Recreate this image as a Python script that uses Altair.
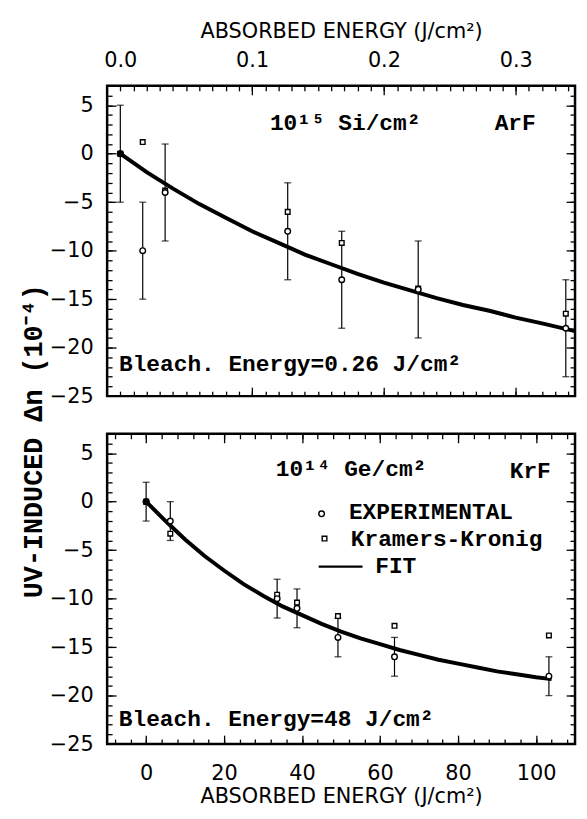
import altair as alt
import pandas as pd
import numpy as np

# ---------------- data ----------------
# Top panel: 10^15 Si/cm^2, ArF
arf_energy = [0.0, 0.017, 0.034, 0.127, 0.168, 0.226, 0.338]
arf_exp = [0.0, -10.0, -4.0, -8.0, -13.0, -14.0, -18.0]
arf_err = [5.0, 5.0, 5.0, 5.0, 5.0, 5.0, 5.0]
arf_kk = [0.0, 1.2, -3.8, -6.0, -9.2, -13.9, -16.5]
arf_fit_energy = [0.0, 0.02, 0.04, 0.06, 0.08, 0.10, 0.12, 0.14, 0.16, 0.18,
                  0.20, 0.22, 0.24, 0.26, 0.28, 0.30, 0.32, 0.345]
arf_fit_dn = [0.0, -1.9, -3.6, -5.2, -6.6, -8.0, -9.2, -10.4, -11.4, -12.4,
              -13.3, -14.1, -14.9, -15.6, -16.2, -16.9, -17.5, -18.3]

# Bottom panel: 10^14 Ge/cm^2, KrF
krf_energy = [0.0, 6.2, 33.6, 38.7, 49.2, 63.7, 103.3]
krf_exp = [0.0, -2.0, -10.0, -11.0, -14.0, -16.0, -18.0]
krf_err = [2.0, 2.0, 2.0, 2.0, 2.0, 2.0, 2.0]
krf_kk = [0.0, -3.3, -9.6, -10.4, -11.8, -12.8, -13.8]
krf_fit_energy = [0, 5, 10, 15, 20, 25, 30, 35, 40, 45, 50, 55, 60, 65, 70,
                  75, 80, 85, 90, 95, 100, 104]
krf_fit_dn = [0.0, -2.0, -3.9, -5.6, -7.1, -8.5, -9.7, -10.8, -11.7, -12.6,
              -13.4, -14.1, -14.7, -15.3, -15.8, -16.3, -16.7, -17.1, -17.5,
              -17.8, -18.1, -18.3]

# tick labels
y_tick_values = [-25, -20, -15, -10, -5, 0, 5]
arf_x_ticks = [0.0, 0.1, 0.2, 0.3]
krf_x_ticks = [0, 20, 40, 60, 80, 100]

x_title = "ABSORBED ENERGY (J/cm²)"
y_title = "UV-INDUCED Δn (10⁻⁴)"

# annotations (label, energy, delta n)
arf_ann_text = ["10¹⁵ Si/cm²", "ArF", "Bleach. Energy=0.26 J/cm²"]
arf_ann_x = [0.1135, 0.284, -0.001]
arf_ann_y = [2.45, 2.45, -22.4]
krf_ann_text = ["10¹⁴ Ge/cm²", "KrF", "Bleach. Energy=48 J/cm²"]
krf_ann_x = [33.25, 93.25, -7.0]
krf_ann_y = [2.6, 2.4, -23.15]

legend_labels = ["EXPERIMENTAL", "Kramers-Kronig", "FIT"]
legend_text_x = [52.0, 52.5, 58.75]
legend_text_y = [-1.1, -3.85, -6.6]
legend_marker_x = [45.0, 45.75]
legend_marker_y = [-1.25, -3.8]
legend_line_x = [44.25]
legend_line_x2 = [55.5]
legend_line_y = [-6.7]

SANS = "DejaVu Sans"
MONO = "Liberation Mono"
W, H = 472, 313


def tick_axis(orient, values, size):
    return alt.Axis(orient=orient, values=values, labels=False, domain=False,
                    grid=False, ticks=True, tickSize=size, offset=-size,
                    tickColor="black", tickWidth=1.3, title=None)


def make_panel(energy, exp, err, kk, fitE, fitY, xdom, x_major, x_minor,
               x_label_vals, xfmt, xorient, ann_t, ann_x, ann_y, with_ytitle,
               with_legend):
    pts = pd.DataFrame({
        "E": energy, "dn": exp, "kk": kk,
        "lo": [a - b for a, b in zip(exp, err)],
        "hi": [a + b for a, b in zip(exp, err)],
    })
    fit = pd.DataFrame({"E": fitE, "dn": fitY})
    ann = pd.DataFrame({"E": ann_x, "dn": ann_y, "t": ann_t})
    xs = alt.Scale(domain=xdom, nice=False, zero=False)
    ys = alt.Scale(domain=[-25, 7], nice=False, zero=False)

    def X(field, **kw):
        return alt.X(field, type="quantitative", scale=xs, **kw)

    def Y(field, **kw):
        return alt.Y(field, type="quantitative", scale=ys, **kw)

    # labelled axes
    if xorient == "top":
        xlab = alt.Axis(orient="top", values=x_label_vals, format=xfmt,
                        ticks=False, domain=False, grid=False,
                        labelFont=SANS, labelFontSize=21, labelColor="black",
                        labelPadding=16, title=x_title, titleFont=SANS,
                        titleFontSize=21, titleFontWeight="normal",
                        titleColor="black", titlePadding=8)
    else:
        xlab = alt.Axis(orient="bottom", values=x_label_vals, format=xfmt,
                        ticks=False, domain=False, grid=False,
                        labelFont=SANS, labelFontSize=21, labelColor="black",
                        labelPadding=19, title=x_title, titleFont=SANS,
                        titleFontSize=21, titleFontWeight="normal",
                        titleColor="black", titlePadding=2)
    if with_ytitle:
        ylab = alt.Axis(orient="left", values=y_tick_values, format="d",
                        ticks=False, domain=False, grid=False,
                        labelFont=SANS, labelFontSize=21, labelColor="black",
                        labelPadding=14, title=y_title, titleFont=MONO,
                        titleFontSize=27, titleFontWeight="bold",
                        titleColor="black", titlePadding=2, titleY=358)
    else:
        ylab = alt.Axis(orient="left", values=y_tick_values, format="d",
                        ticks=False, domain=False, grid=False,
                        labelFont=SANS, labelFontSize=21, labelColor="black",
                        labelPadding=14, title=None)

    y_major = [-20, -15, -10, -5, 0, 5]
    y_minor = list(range(-24, 7))

    def carrier(xa, ya):
        return alt.Chart(fit).mark_point(opacity=0).encode(
            x=X("E", axis=xa), y=Y("dn", axis=ya))

    layers = [
        carrier(xlab, ylab),
        carrier(tick_axis("top", x_major, 9), tick_axis("left", y_major, 9)),
        carrier(tick_axis("bottom", x_major, 9), tick_axis("right", y_major, 9)),
        carrier(tick_axis("top", x_minor, 5), tick_axis("left", y_minor, 5)),
        carrier(tick_axis("bottom", x_minor, 5), tick_axis("right", y_minor, 5)),
    ]

    base = alt.Chart(pts)
    layers.append(base.mark_rule(color="black", strokeWidth=1.2).encode(
        x=X("E", axis=None), y=Y("lo", axis=None), y2="hi"))
    layers.append(base.mark_tick(orient="horizontal", size=7, thickness=1.3,
                                 color="black").encode(
        x=X("E", axis=None), y=Y("lo", axis=None)))
    layers.append(base.mark_tick(orient="horizontal", size=7, thickness=1.3,
                                 color="black").encode(
        x=X("E", axis=None), y=Y("hi", axis=None)))
    layers.append(alt.Chart(fit).mark_line(color="black", strokeWidth=4,
                                           clip=True).encode(
        x=X("E", axis=None), y=Y("dn", axis=None)))
    layers.append(base.mark_point(shape="square", filled=True, fill="white",
                                  stroke="black", strokeWidth=1.4, size=22,
                                  opacity=1).encode(
        x=X("E", axis=None), y=Y("kk", axis=None)))
    layers.append(base.mark_point(shape="circle", filled=True, fill="white",
                                  stroke="black", strokeWidth=1.4, size=32,
                                  opacity=1).encode(
        x=X("E", axis=None), y=Y("dn", axis=None)))
    layers.append(base.transform_filter(alt.datum.E == 0).mark_circle(
        color="black", size=45, opacity=1).encode(
        x=X("E", axis=None), y=Y("dn", axis=None)))
    layers.append(alt.Chart(ann).mark_text(
        font=MONO, fontWeight="bold", fontSize=23, align="left",
        baseline="alphabetic", color="black").encode(
        x=X("E", axis=None), y=Y("dn", axis=None), text="t:N"))

    if with_legend:
        lt = pd.DataFrame({"E": legend_text_x, "dn": legend_text_y,
                           "t": legend_labels})
        lm = pd.DataFrame({"E": legend_marker_x, "dn": legend_marker_y,
                           "s": ["circle", "square"]})
        ll = pd.DataFrame({"E": legend_line_x, "E2": legend_line_x2,
                           "dn": legend_line_y})
        layers.append(alt.Chart(lt).mark_text(
            font=MONO, fontWeight="bold", fontSize=23, align="left",
            baseline="middle", color="black").encode(
            x=X("E", axis=None), y=Y("dn", axis=None), text="t:N"))
        layers.append(alt.Chart(lm).transform_filter(
            alt.datum.s == "circle").mark_point(
            shape="circle", filled=True, fill="white", stroke="black",
            strokeWidth=1.4, size=32, opacity=1).encode(
            x=X("E", axis=None), y=Y("dn", axis=None)))
        layers.append(alt.Chart(lm).transform_filter(
            alt.datum.s == "square").mark_point(
            shape="square", filled=True, fill="white", stroke="black",
            strokeWidth=1.4, size=22, opacity=1).encode(
            x=X("E", axis=None), y=Y("dn", axis=None)))
        layers.append(alt.Chart(ll).mark_rule(color="black",
                                              strokeWidth=2.5).encode(
            x=X("E", axis=None), x2="E2", y=Y("dn", axis=None)))

    return alt.layer(*layers).resolve_axis(
        x="independent", y="independent").properties(width=W, height=H)


top = make_panel(
    arf_energy, arf_exp, arf_err, arf_kk, arf_fit_energy, arf_fit_dn,
    [-0.01, 0.345], [0.1, 0.2, 0.3],
    [round(v, 3) for v in np.arange(0.0, 0.345, 0.01)],
    arf_x_ticks, ".1f", "top",
    arf_ann_text, arf_ann_x, arf_ann_y, True, False)

bottom = make_panel(
    krf_energy, krf_exp, krf_err, krf_kk, krf_fit_energy, krf_fit_dn,
    [-10, 110], [0, 20, 40, 60, 80, 100],
    list(range(-8, 110, 4)),
    krf_x_ticks, "d", "bottom",
    krf_ann_text, krf_ann_x, krf_ann_y, False, True)

chart = alt.vconcat(top, bottom, spacing=38, bounds="flush").properties(
    padding={"left": 10, "top": 7, "right": 0, "bottom": 0},
    background="white",
).configure_view(stroke="black", strokeWidth=2.5)

chart.save("out.html", embed_options={"renderer": "svg", "actions": False})
